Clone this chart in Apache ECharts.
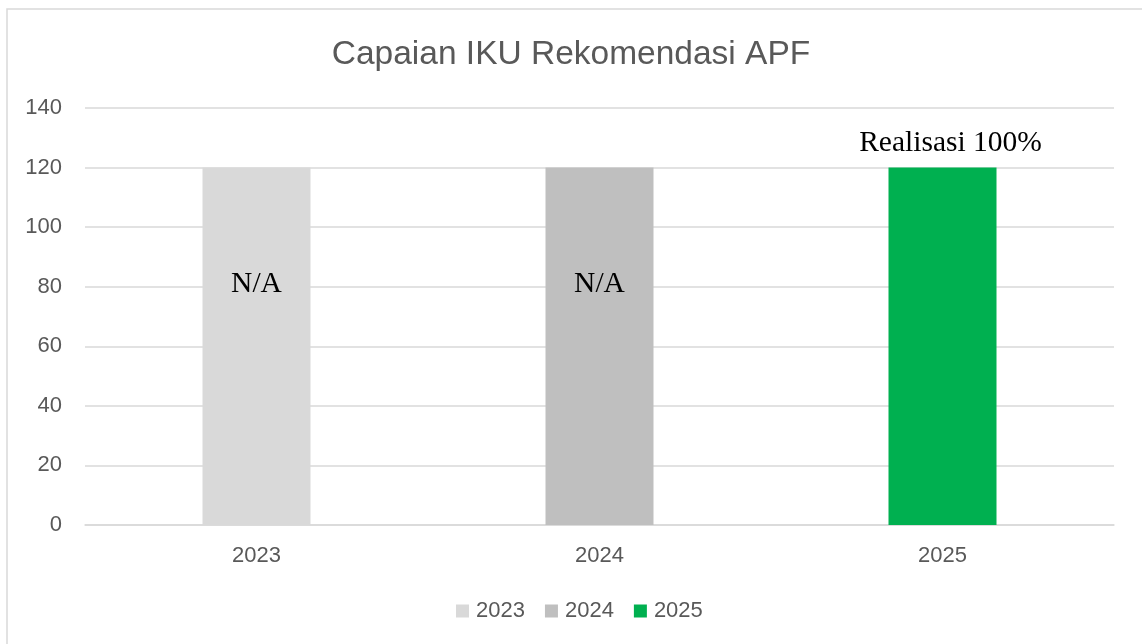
<!DOCTYPE html>
<html>
<head>
<meta charset="utf-8">
<script src="https://cdn.jsdelivr.net/npm/echarts@6/dist/echarts.min.js"></script>
<style>
html,body{margin:0;padding:0;background:#fff;}
#c{width:1142px;height:644px;}
</style>
</head>
<body>
<div id="c"></div>
<script>
const categories = ['2023', '2024', '2025'];
const seriesNames = ['2023', '2024', '2025'];
const values2023 = [120, null, null];
const values2024 = [null, 120, null];
const values2025 = [null, null, 120];
const barLabels = ['N/A', 'N/A', 'Realisasi 100%'];
const colors = ['#d9d9d9', '#bfbfbf', '#00b050'];
const yTicks = { min: 0, max: 140, interval: 20 };

const allValues = [values2023, values2024, values2025];

const chart = echarts.init(document.getElementById('c'), null, { renderer: 'canvas' });

const series = seriesNames.map((name, i) => {
  const isTop = i === 2;
  return {
    name: name,
    type: 'bar',
    stack: 'all',
    barWidth: 108,
    data: allValues[i],
    itemStyle: { color: colors[i] },
    label: {
      show: true,
      formatter: barLabels[i],
      position: isTop ? 'top' : 'insideTop',
      distance: isTop ? 9 : 102,
      offset: isTop ? [8, 0] : [0, 0],
      fontFamily: 'Liberation Serif',
      fontSize: 29.5,
      color: '#000'
    },
    emphasis: { disabled: true }
  };
});

chart.setOption({
  animation: false,
  backgroundColor: '#fff',
  title: {
    text: 'Capaian IKU Rekomendasi APF',
    left: 'center',
    top: 33,
    textStyle: { fontFamily: 'Liberation Sans', fontSize: 33.5, fontWeight: 'normal', color: '#595959' }
  },
  legend: {
    data: seriesNames,
    bottom: 17,
    left: 451,
    itemWidth: 13,
    itemHeight: 13,
    itemGap: 20,
    icon: 'rect',
    textStyle: { fontFamily: 'Liberation Sans', fontSize: 22, color: '#595959', padding: [0, 0, 0, 2] }
  },
  grid: { left: 85, right: 28, top: 108, bottom: 119, containLabel: false },
  xAxis: {
    type: 'category',
    data: categories,
    axisLine: { show: true, lineStyle: { color: '#d9d9d9', width: 1.5 } },
    axisTick: { show: false },
    axisLabel: { fontFamily: 'Liberation Sans', fontSize: 22, color: '#595959', margin: 20 }
  },
  yAxis: {
    type: 'value',
    min: yTicks.min,
    max: yTicks.max,
    interval: yTicks.interval,
    axisLine: { show: false },
    axisTick: { show: false },
    splitLine: { lineStyle: { color: '#d9d9d9', width: 1.5 } },
    axisLabel: { fontFamily: 'Liberation Sans', fontSize: 22, color: '#595959', margin: 23 }
  },
  graphic: [{
    type: 'rect',
    shape: { x: 7, y: 9, width: 1200, height: 700 },
    style: { fill: 'none', stroke: '#d9d9d9', lineWidth: 1.5 },
    silent: true
  }],
  series: series
});
</script>
</body>
</html>
